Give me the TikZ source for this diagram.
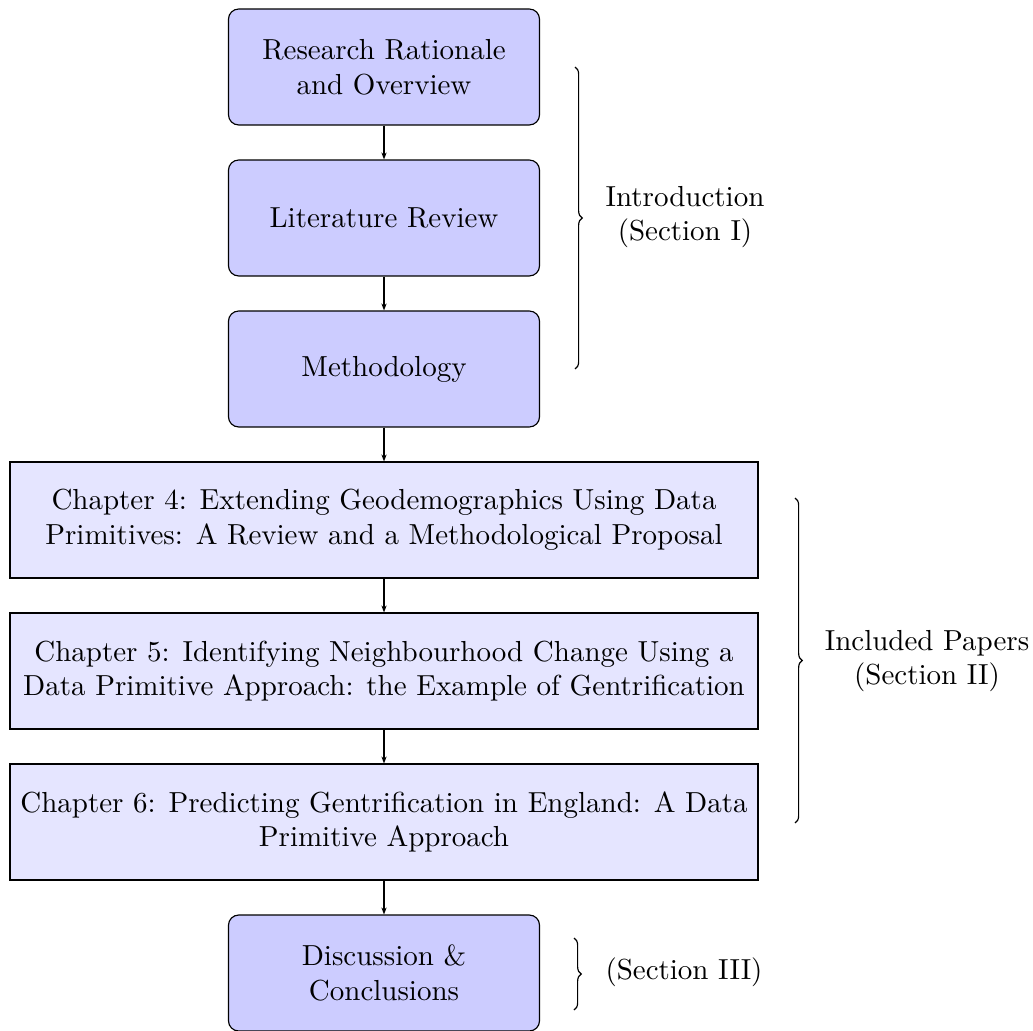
\documentclass[tikz,border=0pt]{standalone}
\usetikzlibrary{arrows.meta,decorations.pathreplacing}
\begin{document}
\begin{tikzpicture}[x=0.345pt,y=-0.345pt,
  rbox/.style={draw, fill=blue!20, rounded corners=3.5pt, minimum width=107.3pt, minimum height=40pt, align=center, inner sep=0pt},
  cbox/.style={draw, fill=blue!10, minimum width=258.1pt, minimum height=40pt, align=center, inner sep=0pt},
  flow/.style={-{Stealth[length=2.4pt,width=1.8pt]}},
  brc/.style={decorate, decoration={brace, amplitude=2.5pt}},
  lbl/.style={align=center}]
\useasboundingbox (0,0) rectangle (1033,1030);
\node[rbox] (rr) at (384,67) {Research Rationale\\and Overview};
\node[rbox] (lr) at (384,218) {Literature Review};
\node[rbox] (me) at (384,369) {Methodology};
\node[cbox] (c4) at (384,520) {Chapter 4: Extending Geodemographics Using Data\\Primitives: A Review and a Methodological Proposal};
\node[cbox] (c5) at (384,671) {Chapter 5: Identifying Neighbourhood Change Using a\\Data Primitive Approach: the Example of Gentrification};
\node[cbox] (c6) at (384,822) {Chapter 6: Predicting Gentrification in England: A Data\\Primitive Approach};
\node[rbox] (dc) at (384,973) {Discussion \&\\Conclusions};
\draw[flow] (rr) -- (lr);
\draw[flow] (lr) -- (me);
\draw[flow] (me) -- (c4);
\draw[flow] (c4) -- (c5);
\draw[flow] (c5) -- (c6);
\draw[flow] (c6) -- (dc);
\coordinate (b1a) at (575,67);
\coordinate (b1b) at (575,369);
\coordinate (b2a) at (795,498);
\coordinate (b2b) at (795,823);
\coordinate (b3a) at (574,938);
\coordinate (b3b) at (574,1010);
\draw[brc] (b1a) -- (b1b);
\draw[brc] (b2a) -- (b2b);
\draw[brc] (b3a) -- (b3b);
\node[lbl] (l1) at (685,217) {Introduction\\(Section I)};
\node[lbl] (l2) at (927,661) {Included Papers\\(Section II)};
\node[lbl] (l3) at (684,972) {(Section III)};
\end{tikzpicture}
\end{document}
